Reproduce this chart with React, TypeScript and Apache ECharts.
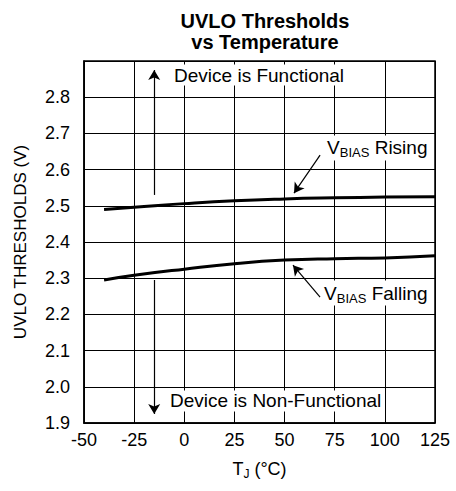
import React, { useEffect, useRef } from "react";
import * as echarts from "echarts";

const temps = [-40, -25, 0, 25, 50, 75, 100, 125];
const rising = [2.49, 2.496, 2.506, 2.514, 2.519, 2.522, 2.524, 2.525];
const falling = [2.295, 2.308, 2.325, 2.34, 2.35, 2.354, 2.356, 2.362];

const FONT = "Liberation Sans, Arial, sans-serif";

export default function App() {
  const ref = useRef<HTMLDivElement>(null);
  useEffect(() => {
    document.body.style.margin = "0";
    const chart = echarts.init(ref.current!, null, { renderer: "svg" });
    const arrowLine = (a: number[], b: number[]) => [{ coord: a }, { coord: b }];
    chart.setOption({
      animation: false,
      title: {
        text: "UVLO Thresholds\nvs Temperature",
        left: 260,
        textAlign: "center",
        top: 5,
        textStyle: { fontFamily: FONT, fontSize: 20, fontWeight: "bold", color: "#000", lineHeight: 21 },
      },
      grid: { left: 84, right: 21, top: 61, bottom: 68, show: true, borderColor: "#000", borderWidth: 1.5 },
      xAxis: {
        type: "value",
        min: -50,
        max: 125,
        interval: 25,
        name: "{t|T}{s|J}{t| (°C)}",
        nameLocation: "middle",
        nameGap: 35,
        nameTextStyle: {
          rich: {
            t: { fontFamily: FONT, fontSize: 18, color: "#000" },
            s: { fontFamily: FONT, fontSize: 12, color: "#000", verticalAlign: "bottom", padding: [10, 0, 0, 0] },
          },
        },
        axisLine: { show: true, onZero: false, lineStyle: { color: "#000", width: 1.5 } },
        axisTick: { show: false },
        axisLabel: { fontFamily: FONT, fontSize: 18, color: "#000", margin: 8, formatter: (v: number) => String(v) },
        splitLine: { show: true, lineStyle: { color: "#000", width: 1 } },
      },
      yAxis: {
        type: "value",
        min: 1.9,
        max: 2.9,
        interval: 0.1,
        name: "UVLO THRESHOLDS (V)",
        nameLocation: "middle",
        nameGap: 55,
        nameTextStyle: { fontFamily: FONT, fontSize: 17, color: "#000" },
        axisLine: { show: true, onZero: false, lineStyle: { color: "#000", width: 1.5 } },
        axisTick: { show: false },
        axisLabel: {
          fontFamily: FONT,
          fontSize: 18,
          color: "#000",
          margin: 14,
          formatter: (v: number) => (Math.abs(v - 2.9) < 1e-6 ? "" : v.toFixed(1)),
        },
        splitLine: { show: true, lineStyle: { color: "#000", width: 1 } },
      },
      series: [
        {
          type: "line",
          data: temps.map((t, i) => [t, rising[i]]),
          smooth: true,
          symbol: "none",
          lineStyle: { color: "#000", width: 3 },
          markLine: {
            silent: true,
            symbol: ["none", "arrow"],
            symbolSize: [9, 10],
            label: { show: false },
            lineStyle: { color: "#000", width: 1.2, type: "solid" },
            data: [
              arrowLine([-15, 2.53], [-15, 2.875]),
              arrowLine([-15, 2.295], [-15, 1.925]),
              arrowLine([67.7, 2.64], [54.7, 2.535]),
              arrowLine([67.7, 2.248], [54.2, 2.336]),
            ],
          },
        },
        {
          type: "line",
          data: temps.map((t, i) => [t, falling[i]]),
          smooth: true,
          symbol: "none",
          lineStyle: { color: "#000", width: 3 },
        },
      ],
    });

    const labels: { t: number; v: number; text: string }[] = [
      { t: -6.1, v: 2.861, text: "{n|Device is Functional}" },
      { t: -8.1, v: 1.961, text: "{n|Device is Non-Functional}" },
      { t: 70.2, v: 2.66, text: "{n|V}{s|BIAS}{n| Rising}" },
      { t: 68.7, v: 2.259, text: "{n|V}{s|BIAS}{n| Falling}" },
    ];
    const graphic = labels.map((l) => {
      const p = chart.convertToPixel({ gridIndex: 0 }, [l.t, l.v]) as number[];
      return {
        type: "text",
        x: p[0],
        y: p[1],
        z: 100,
        style: {
          text: l.text,
          verticalAlign: "middle",
          align: "left",
          backgroundColor: "#fff",
          padding: [1, 2, 1, 2],
          rich: {
            n: { fontFamily: FONT, fontSize: 19, fill: "#000", color: "#000" },
            s: { fontFamily: FONT, fontSize: 13, fill: "#000", color: "#000", padding: [10, 0, 0, 0] },
          },
        },
      };
    });
    chart.setOption({ graphic });
    return () => chart.dispose();
  }, []);
  return <div ref={ref} style={{ width: 456, height: 491 }} />;
}
